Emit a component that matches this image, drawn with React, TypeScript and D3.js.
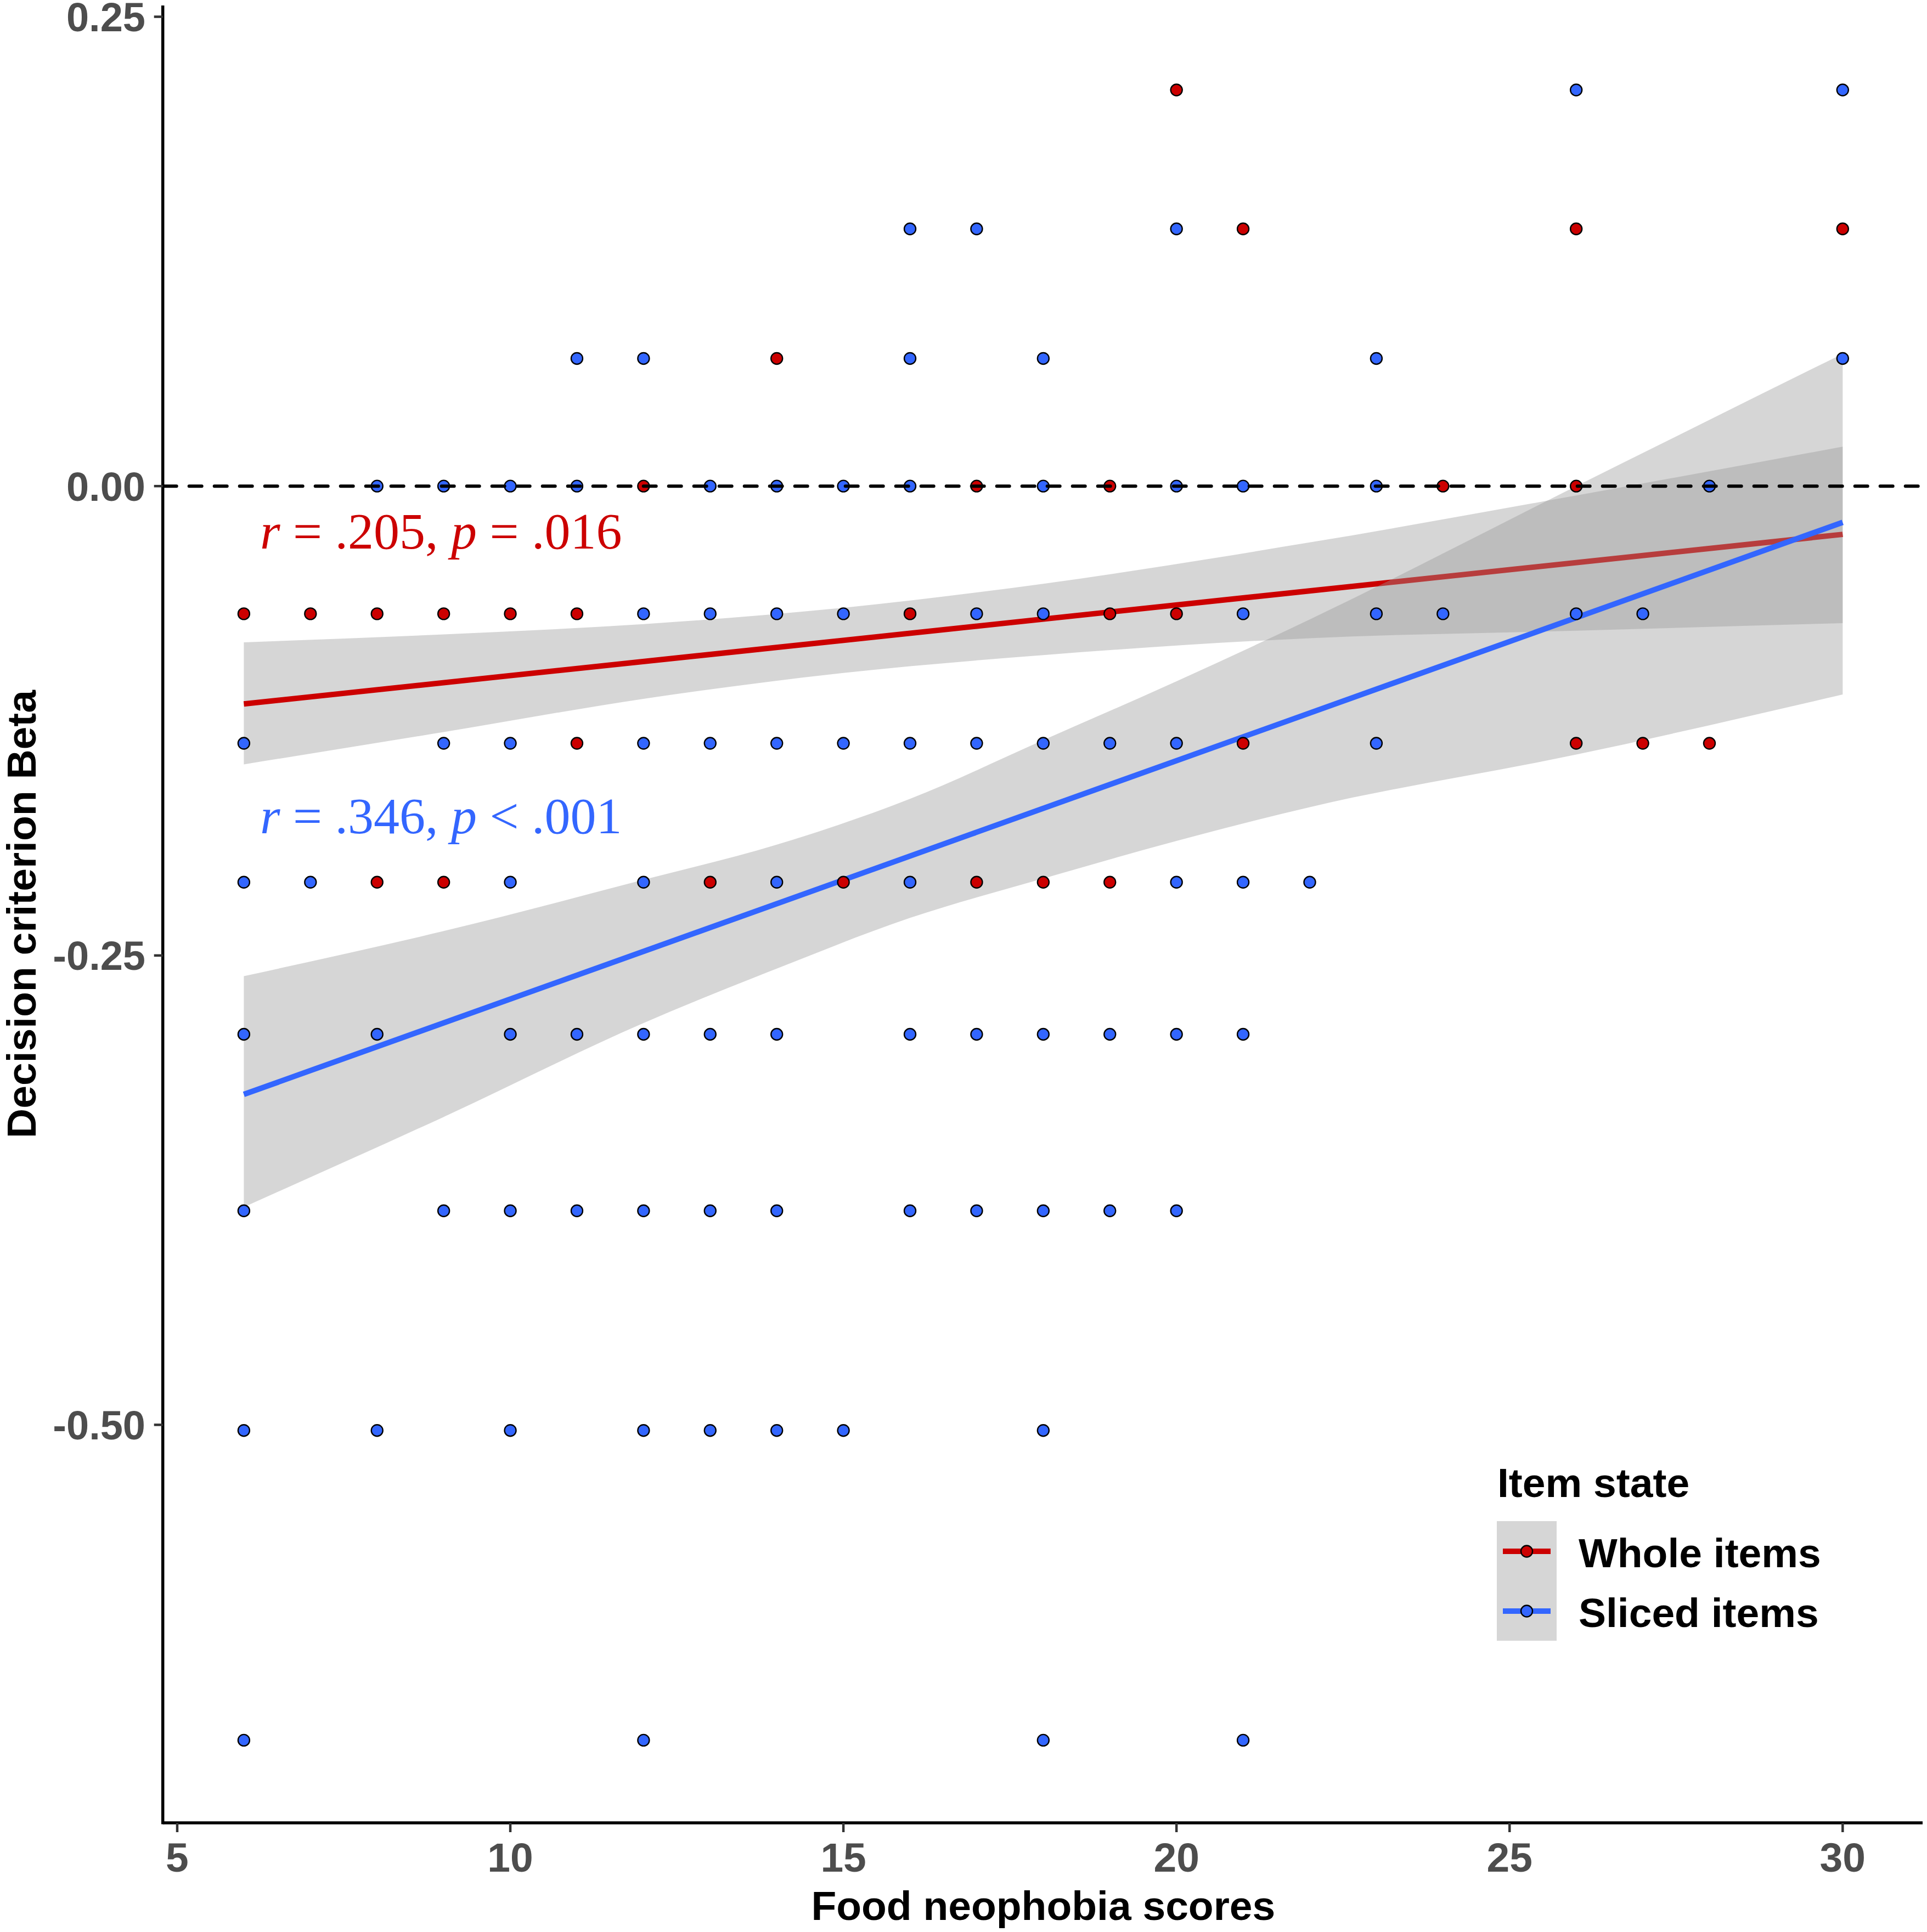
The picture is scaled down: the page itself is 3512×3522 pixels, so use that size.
import * as d3 from "d3";

// beta rows (y value of each row of dots)
const betaLevels = [0.211, 0.137, 0.068, 0, -0.068, -0.137, -0.211, -0.292, -0.386, -0.503, -0.668];

// food neophobia scores present in each row, per item state
const wholeScores: number[][] = [
  [20],
  [21, 26, 30],
  [14],
  [12, 17, 19, 24, 26],
  [6, 7, 8, 9, 10, 11, 16, 19, 20],
  [11, 21, 26, 27, 28],
  [8, 9, 13, 15, 17, 18, 19],
  [],
  [],
  [],
  [],
];
const slicedScores: number[][] = [
  [26, 30],
  [16, 17, 20],
  [11, 12, 16, 18, 23, 30],
  [8, 9, 10, 11, 13, 14, 15, 16, 18, 20, 21, 23, 28],
  [12, 13, 14, 15, 17, 18, 21, 23, 24, 26, 27],
  [6, 9, 10, 12, 13, 14, 15, 16, 17, 18, 19, 20, 23],
  [6, 7, 10, 12, 14, 16, 20, 21, 22],
  [6, 8, 10, 11, 12, 13, 14, 16, 17, 18, 19, 20, 21],
  [6, 9, 10, 11, 12, 13, 14, 16, 17, 18, 19, 20],
  [6, 8, 10, 12, 13, 14, 15, 18],
  [6, 12, 18, 21],
];

// fitted lines (lm) and their 95% bands
const fitX = [6, 30];
const wholeFit = [-0.116, -0.0257];
const slicedFit = [-0.324, -0.0193];

const wholeBandX = [6, 9, 12, 15, 18, 22, 26, 30];
const wholeLower = [-0.1482, -0.131, -0.1133, -0.0995, -0.09, -0.081, -0.077, -0.073];
const wholeUpper = [-0.0832, -0.079, -0.0735, -0.0648, -0.052, -0.03, -0.005, 0.021];

const slicedBandX = [6, 9, 12, 14, 16, 18, 20, 22, 26, 30];
const slicedLower = [-0.384, -0.336, -0.286, -0.257, -0.23, -0.209, -0.189, -0.171, -0.143, -0.111];
const slicedUpper = [-0.261, -0.237, -0.2097, -0.191, -0.1666, -0.1353, -0.104, -0.071, 0.0, 0.0705];

const xTicks = [5, 10, 15, 20, 25, 30];
const yTicks = [0.25, 0, -0.25, -0.5];
const yTickLabels = ["0.25", "0.00", "-0.25", "-0.50"];

const states = ["Whole items", "Sliced items"];
const colors = ["#CC0000", "#3366FF"];

const width = 3512;
const height = 3522;
const sans = "'Liberation Sans', Arial, sans-serif";
const serif = "'Liberation Serif', 'Times New Roman', serif";

export default function App() {
  const x = d3.scaleLinear().domain([4.8, 31.2]).range([298.7, 3504]);
  const y = d3.scaleLinear().domain([-0.712, 0.256]).range([3323, 10]);

  const band = d3
    .area<[number, number, number]>()
    .x((d) => x(d[0]))
    .y0((d) => y(d[1]))
    .y1((d) => y(d[2]))
    .curve(d3.curveMonotoneX);

  const line = d3
    .line<[number, number]>()
    .x((d) => x(d[0]))
    .y((d) => y(d[1]));

  const wholeBand = wholeBandX.map((v, i) => [v, wholeLower[i], wholeUpper[i]] as [number, number, number]);
  const slicedBand = slicedBandX.map((v, i) => [v, slicedLower[i], slicedUpper[i]] as [number, number, number]);
  const wholeLine = fitX.map((v, i) => [v, wholeFit[i]] as [number, number]);
  const slicedLine = fitX.map((v, i) => [v, slicedFit[i]] as [number, number]);

  const points: { score: number; beta: number; state: number }[] = [];
  betaLevels.forEach((b, r) => {
    wholeScores[r].forEach((s) => points.push({ score: s, beta: b, state: 0 }));
    slicedScores[r].forEach((s) => points.push({ score: s, beta: b, state: 1 }));
  });

  const [x0, x1] = x.range();
  const [yBottom, yTop] = y.range();

  return (
    <svg
      width={width}
      height={height}
      style={{ position: "absolute", left: 0, top: 0, background: "#fff" }}
    >
      <rect width={width} height={height} fill="#fff" />

      {/* smooths: ribbon then line, per group */}
      <path d={band(wholeBand) || ""} fill="#999999" fillOpacity={0.4} />
      <path d={line(wholeLine) || ""} stroke={colors[0]} strokeWidth={10} fill="none" />
      <path d={band(slicedBand) || ""} fill="#999999" fillOpacity={0.4} />
      <path d={line(slicedLine) || ""} stroke={colors[1]} strokeWidth={10} fill="none" />

      {/* points */}
      {points.map((p, i) => (
        <circle
          key={i}
          cx={x(p.score)}
          cy={y(p.beta)}
          r={10.5}
          fill={colors[p.state]}
          stroke="#000"
          strokeWidth={2.4}
        />
      ))}

      {/* reference line at 0 */}
      <line
        x1={x0}
        x2={x1}
        y1={y(0)}
        y2={y(0)}
        stroke="#000"
        strokeWidth={6}
        strokeDasharray="23 23"
        strokeLinecap="round"
      />

      {/* annotations */}
      <text x={474} y={1000} fontFamily={serif} fontSize={94} fill={colors[0]}>
        <tspan fontStyle="italic">r</tspan> = .205, <tspan fontStyle="italic">p</tspan> = .016
      </text>
      <text x={474} y={1519} fontFamily={serif} fontSize={94} fill={colors[1]}>
        <tspan fontStyle="italic">r</tspan> = .346, <tspan fontStyle="italic">p</tspan> &lt; .001
      </text>

      {/* axes */}
      <line x1={x0 - 2} x2={x1} y1={yBottom} y2={yBottom} stroke="#000" strokeWidth={5.5} />
      <line x1={x0 - 2} x2={x0 - 2} y1={yTop} y2={yBottom + 2.5} stroke="#000" strokeWidth={5.5} />

      {xTicks.map((t) => (
        <g key={t}>
          <line x1={x(t)} x2={x(t)} y1={yBottom} y2={yBottom + 17} stroke="#333" strokeWidth={4.5} />
          <text
            x={x(t)}
            y={3412}
            textAnchor="middle"
            fontFamily={sans}
            fontWeight="bold"
            fontSize={75}
            fill="#4D4D4D"
          >
            {t}
          </text>
        </g>
      ))}
      {yTicks.map((t, i) => (
        <g key={t}>
          <line x1={x0 - 18} x2={x0 - 2} y1={y(t)} y2={y(t)} stroke="#333" strokeWidth={4.5} />
          <text
            x={265}
            y={y(t)}
            dy="0.36em"
            textAnchor="end"
            fontFamily={sans}
            fontWeight="bold"
            fontSize={74}
            fill="#4D4D4D"
          >
            {yTickLabels[i]}
          </text>
        </g>
      ))}

      <text
        x={(x0 + x1) / 2}
        y={3500}
        textAnchor="middle"
        fontFamily={sans}
        fontWeight="bold"
        fontSize={75}
        fill="#000"
      >
        Food neophobia scores
      </text>
      <text
        transform={`translate(65, ${(yTop + yBottom) / 2}) rotate(-90)`}
        textAnchor="middle"
        fontFamily={sans}
        fontWeight="bold"
        fontSize={75}
        fill="#000"
      >
        Decision criterion Beta
      </text>

      {/* legend */}
      <text x={2729} y={2729} fontFamily={sans} fontWeight="bold" fontSize={75} fill="#000">
        Item state
      </text>
      <rect x={2728} y={2773} width={109} height={218} fill="#D6D6D6" />
      {states.map((s, i) => {
        const cy = 2828 + i * 109;
        return (
          <g key={s}>
            <line x1={2739} x2={2826} y1={cy} y2={cy} stroke={colors[i]} strokeWidth={10} />
            <circle cx={2782.5} cy={cy} r={10.5} fill={colors[i]} stroke="#000" strokeWidth={2.4} />
            <text x={2877} y={cy + 29} fontFamily={sans} fontWeight="bold" fontSize={75} fill="#000">
              {s}
            </text>
          </g>
        );
      })}
    </svg>
  );
}
